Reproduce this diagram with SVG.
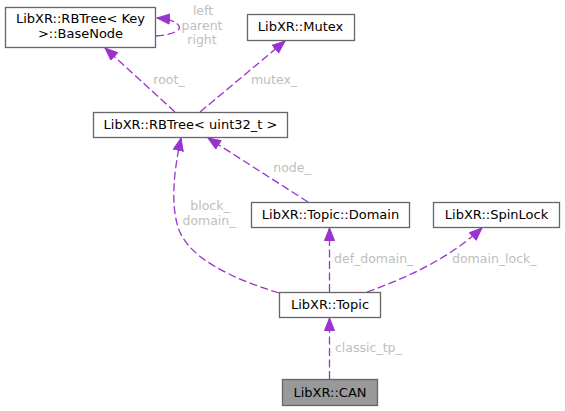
<svg xmlns="http://www.w3.org/2000/svg" width="565" height="411" viewBox="0 0 565 411">
<style>
.node rect{fill:#ffffff;stroke:#666666;stroke-width:1.3}
.node text{font-family:"DejaVu Sans",sans-serif;font-size:13px;fill:#000000;text-anchor:middle}
.edge path{fill:none;stroke:#9a32cd;stroke-width:1.3;stroke-dasharray:8,3.5}
.lbl{font-family:"DejaVu Sans",sans-serif;font-size:12.5px;fill:#bebebe}
.mid{text-anchor:middle}
</style>
<defs>
<marker id="ah" markerUnits="userSpaceOnUse" markerWidth="14" markerHeight="12" refX="13" refY="5.5" orient="auto">
<path d="M0.5,0.5 L13,5.5 L0.5,10.5 z" fill="#9a32cd" stroke="#9a32cd" stroke-width="1"/>
</marker>
</defs>
<rect width="565" height="411" fill="#ffffff"/>
<g id="edges" class="edge">
<path d="M329.5,379 L329.5,318" marker-end="url(#ah)"/>
<path d="M329.5,292 L329.5,228" marker-end="url(#ah)"/>
<path d="M367,292 C400,280 445,262 482,228" marker-end="url(#ah)"/>
<path d="M279,293 C230,278 190,258 179,230 C170,205 174,170 181,138" marker-end="url(#ah)"/>
<path d="M308,202 L208,138" marker-end="url(#ah)"/>
<path d="M175,112 L105,48" marker-end="url(#ah)"/>
<path d="M200,112 L285,41" marker-end="url(#ah)"/>
<path d="M156,36 C170,35 182,31 179,26 C176,21 168,19 157,18" marker-end="url(#ah)"/>
</g>
<g id="edge-labels">
<text class="lbl" x="335" y="352">classic_tp_</text>
<text class="lbl" x="334" y="263">def_domain_</text>
<text class="lbl" x="452" y="263">domain_lock_</text>
<text class="lbl mid" x="210" y="210">block_</text>
<text class="lbl mid" x="209" y="225">domain_</text>
<text class="lbl mid" x="292" y="172">node_</text>
<text class="lbl mid" x="169" y="84">root_</text>
<text class="lbl mid" x="274" y="84">mutex_</text>
<text class="lbl mid" x="203" y="15">left</text>
<text class="lbl mid" x="202" y="29.5">parent</text>
<text class="lbl mid" x="202" y="44">right</text>
</g>
<g id="node-basenode" class="node">
<rect x="5.5" y="7.5" width="150" height="40"/>
<text x="80.5" y="23">LibXR::RBTree&lt; Key</text>
<text x="80.5" y="38">&gt;::BaseNode</text>
</g>
<g id="node-mutex" class="node">
<rect x="247.5" y="14.5" width="107" height="26"/>
<text x="300.5" y="31">LibXR::Mutex</text>
</g>
<g id="node-rbtree" class="node">
<rect x="93.5" y="112.5" width="194" height="25"/>
<text x="190.5" y="129">LibXR::RBTree&lt; uint32_t &gt;</text>
</g>
<g id="node-domain" class="node">
<rect x="251.5" y="202.5" width="158" height="25"/>
<text x="330.5" y="219">LibXR::Topic::Domain</text>
</g>
<g id="node-spinlock" class="node">
<rect x="433.5" y="202.5" width="126" height="25"/>
<text x="496.5" y="219">LibXR::SpinLock</text>
</g>
<g id="node-topic" class="node">
<rect x="279.5" y="292.5" width="101" height="25"/>
<text x="330" y="309">LibXR::Topic</text>
</g>
<g id="node-can" class="node">
<rect x="282.5" y="379.5" width="95" height="26" style="fill:#999999"/>
<text x="330" y="397">LibXR::CAN</text>
</g>
</svg>
